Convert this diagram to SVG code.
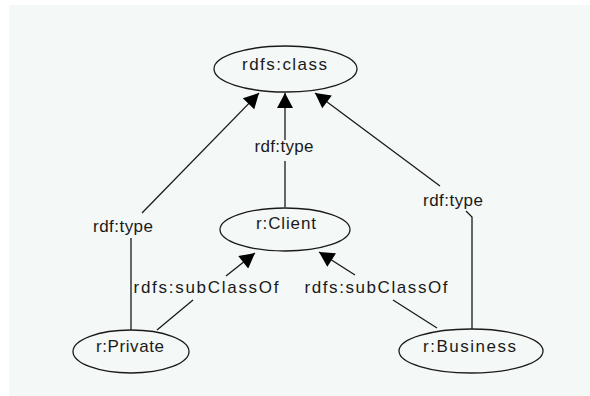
<svg xmlns="http://www.w3.org/2000/svg" width="590" height="396" viewBox="0 0 590 396">
<style>
.bg{fill:#ffffff}
.panel{fill:#f4f8f6}
.node ellipse{fill:none;stroke:#1a1a1a;stroke-width:1.3}
text{font-family:"Liberation Sans",Arial,sans-serif;font-size:17px;fill:#1a1a1a;text-anchor:middle}
.edge line,.edge polyline{stroke:#1a1a1a;stroke-width:1.3;fill:none}
</style>
<defs>
<marker id="arr" markerUnits="userSpaceOnUse" markerWidth="16" markerHeight="16" viewBox="0 0 15 16" refX="15" refY="8" orient="auto">
<path d="M0,0 L15,8 L0,16 z" fill="#000"/>
</marker>
</defs>
<rect class="bg" x="0" y="0" width="590" height="396"/>
<rect class="panel" x="9" y="5" width="581" height="391"/>
<g id="connectors" class="edge">
<line x1="285" y1="207" x2="285" y2="161"/>
<line x1="285" y1="140" x2="285" y2="93" marker-end="url(#arr)"/>
<line x1="131" y1="330" x2="131" y2="238"/>
<line x1="142" y1="213" x2="259" y2="93" marker-end="url(#arr)"/>
<polyline points="472,329 472,217 466,211"/>
<line x1="440" y1="186" x2="315" y2="93" marker-end="url(#arr)"/>
<line x1="157" y1="330" x2="193" y2="300"/>
<line x1="226" y1="276" x2="255" y2="253" marker-end="url(#arr)"/>
<line x1="437" y1="328" x2="393" y2="300"/>
<line x1="355" y1="275" x2="319" y2="252" marker-end="url(#arr)"/>
</g>
<g id="labels">
<text x="284" y="152" textLength="59" lengthAdjust="spacing">rdf:type</text>
<text x="123" y="232" textLength="60" lengthAdjust="spacing">rdf:type</text>
<text x="453" y="206" textLength="60" lengthAdjust="spacing">rdf:type</text>
<text x="206" y="293" textLength="145" lengthAdjust="spacing">rdfs:subClassOf</text>
<text x="376" y="293" textLength="143" lengthAdjust="spacing">rdfs:subClassOf</text>
</g>
<g id="rdfs_class" class="node">
<ellipse cx="285.5" cy="69" rx="71.5" ry="23"/>
<text x="284.5" y="70" textLength="85" lengthAdjust="spacing">rdfs:class</text>
</g>
<g id="r_Client" class="node">
<ellipse cx="285" cy="229.5" rx="65" ry="21.5"/>
<text x="286" y="229" textLength="60" lengthAdjust="spacing">r:Client</text>
</g>
<g id="r_Private" class="node">
<ellipse cx="131" cy="351.5" rx="58" ry="21.5"/>
<text x="130" y="352" textLength="68" lengthAdjust="spacing">r:Private</text>
</g>
<g id="r_Business" class="node">
<ellipse cx="471" cy="351" rx="72" ry="22"/>
<text x="469.5" y="352" textLength="93" lengthAdjust="spacing">r:Business</text>
</g>
</svg>
